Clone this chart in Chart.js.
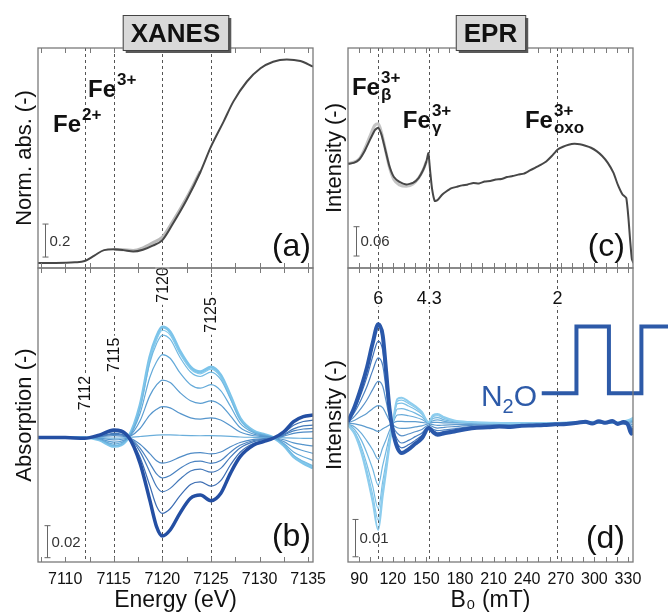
<!DOCTYPE html>
<html>
<head>
<meta charset="utf-8">
<script src="https://cdn.jsdelivr.net/npm/chart.js@4.4.1/dist/chart.umd.min.js"></script>
<style>
  html, body { margin: 0; padding: 0; background: #fff; }
  #wrap { position: relative; width: 668px; height: 612px; }
  #wrap canvas { position: absolute; left: 0; top: 0; }
</style>
</head>
<body>
<div id="wrap">
  <canvas id="panelA" width="668" height="612"></canvas>
  <canvas id="panelB" width="668" height="612"></canvas>
  <canvas id="panelC" width="668" height="612"></canvas>
  <canvas id="panelD" width="668" height="612"></canvas>
</div>
<script>
const FONT = "'Liberation Sans', Arial, sans-serif";
const INK = '#111';

// Tick labels / tick marks
const energyTicks = [7110, 7115, 7120, 7125, 7130, 7135];
const energyMinor = [7107.5, 7110, 7112.5, 7115, 7117.5, 7120, 7122.5, 7125, 7127.5, 7130, 7132.5, 7135];
const fieldTicks = [90, 120, 150, 180, 210, 240, 270, 300, 330];
const fieldMinor = [90, 100, 110, 120, 130, 140, 150, 160, 170, 180, 190, 200, 210, 220, 230, 240, 250, 260, 270, 280, 290, 300, 310, 320, 330];

// Marker lines
const energyMarks = [7112, 7115, 7120, 7125];
const fieldMarks = [107, 152.5, 267];
const gValues = ['6', '4.3', '2'];

// (a) XANES, normalised absorption
const xanesEnergy = [7107.2, 7109, 7111, 7112, 7113, 7114, 7115, 7116, 7117, 7118, 7119, 7120, 7121, 7122.5, 7123.9, 7125, 7126.3, 7127.3, 7128.7, 7130.1, 7131.4, 7132.8, 7134.2, 7135.5];
const xanesAbs = [0, 0, 0.004, 0.012, 0.045, 0.078, 0.083, 0.078, 0.069, 0.08, 0.105, 0.139, 0.23, 0.383, 0.55, 0.705, 0.857, 0.978, 1.1, 1.18, 1.22, 1.234, 1.224, 1.19];
const xanesGreyEnergy = [7115, 7116, 7117, 7118, 7119, 7120, 7121, 7122.5, 7123.9];
const xanesGreyAbs = [0.083, 0.08, 0.076, 0.092, 0.122, 0.157, 0.245, 0.395, 0.557];

// (b) XANES difference spectra, from the most positive to the most negative
const diffEnergy = [7107.2, 7110, 7112, 7113.5, 7115, 7116.5, 7117.7, 7118.7, 7119.4, 7120, 7120.8, 7121.8, 7122.9, 7123.9, 7125, 7126, 7127, 7128, 7129.4, 7130.4, 7131.4, 7132.5, 7133.5, 7134.5, 7135.5];
const xanesDiff = [
  [0, 0, 0, -0.0015, -0.0055, 0, 0.0200, 0.0500, 0.0630, 0.0690, 0.0660, 0.0540, 0.0440, 0.0410, 0.0440, 0.0390, 0.0260, 0.0120, 0.0040, 0.0020, 0, -0.0050, -0.0120, -0.0160, -0.0190],
  [0, 0, 0, -0.0015, -0.0053, 0, 0.0194, 0.0485, 0.0610, 0.0670, 0.0640, 0.0524, 0.0427, 0.0398, 0.0427, 0.0378, 0.0252, 0.0116, 0.0039, 0.0019, 0, -0.0049, -0.0116, -0.0155, -0.0184],
  [0, 0, 0, -0.0014, -0.0051, 0, 0.0186, 0.0465, 0.0586, 0.0640, 0.0614, 0.0502, 0.0409, 0.0381, 0.0409, 0.0363, 0.0242, 0.0112, 0.0037, 0.0019, 0, -0.0047, -0.0112, -0.0149, -0.0177],
  [0, 0, 0, -0.0011, -0.0041, 0, 0.0150, 0.0375, 0.0473, 0.0518, 0.0495, 0.0405, 0.0330, 0.0308, 0.0330, 0.0293, 0.0195, 0.0090, 0.0030, 0.0015, 0, -0.0038, -0.0090, -0.0120, -0.0143],
  [0, 0, 0, -0.0008, -0.0029, 0, 0.0104, 0.0260, 0.0328, 0.0359, 0.0343, 0.0281, 0.0229, 0.0213, 0.0229, 0.0203, 0.0135, 0.0062, 0.0021, 0.0010, 0, -0.0026, -0.0062, -0.0083, -0.0099],
  [0, 0, 0, -0.0004, -0.0015, 0, 0.0056, 0.0140, 0.0176, 0.0193, 0.0185, 0.0151, 0.0123, 0.0115, 0.0123, 0.0109, 0.0073, 0.0034, 0.0011, 0.0006, 0, -0.0014, -0.0034, -0.0045, -0.0053],
  [0, 0, 0, -0.0001, -0.0004, 0, 0.0006, 0.0012, 0.0015, 0.0016, 0.0016, 0.0014, 0.0012, 0.0011, 0.0012, 0.0010, 0.0007, 0.0003, 0.0001, 0, 0, -0.0002, -0.0004, -0.0005, -0.0006],
  [0, 0, -0.0001, 0.0004, 0.0012, 0.0001, -0.0042, -0.0101, -0.0145, -0.0160, -0.0150, -0.0123, -0.0099, -0.0094, -0.0103, -0.0091, -0.0058, -0.0031, -0.0012, -0.0007, -0.0001, 0.0009, 0.0026, 0.0034, 0.0036],
  [0, 0, -0.0002, 0.0006, 0.0019, 0.0002, -0.0066, -0.0160, -0.0228, -0.0253, -0.0237, -0.0194, -0.0156, -0.0148, -0.0162, -0.0144, -0.0092, -0.0049, -0.0019, -0.0011, -0.0002, 0.0015, 0.0041, 0.0053, 0.0057],
  [0, 0, -0.0003, 0.0008, 0.0026, 0.0003, -0.0088, -0.0215, -0.0306, -0.0339, -0.0318, -0.0261, -0.0209, -0.0198, -0.0217, -0.0193, -0.0123, -0.0066, -0.0026, -0.0014, -0.0003, 0.0020, 0.0054, 0.0072, 0.0077],
  [0, 0, -0.0004, 0.0012, 0.0036, 0.0004, -0.0123, -0.0300, -0.0429, -0.0474, -0.0445, -0.0365, -0.0293, -0.0277, -0.0304, -0.0270, -0.0172, -0.0092, -0.0036, -0.0020, -0.0004, 0.0028, 0.0076, 0.0100, 0.0108],
  [0, 0, -0.0005, 0.0015, 0.0047, 0.0005, -0.0160, -0.0390, -0.0557, -0.0616, -0.0578, -0.0474, -0.0380, -0.0360, -0.0395, -0.0350, -0.0224, -0.0120, -0.0047, -0.0026, -0.0005, 0.0036, 0.0099, 0.0130, 0.0140]
];
const xanesDiffColors = ['#7cc4ea', '#86caec', '#72b9e2', '#64aad9', '#5a9dd1', '#5595cc', '#6aaedb', '#4f8bc6', '#4a82c0', '#4479ba', '#3c6db3', '#244fa3'];
const xanesDiffWidths = [3, 1.2, 1.2, 1.2, 1.2, 1.2, 1.2, 1.2, 1.2, 1.2, 1.2, 3.5];

// (c) EPR spectrum
const eprField = [80, 85, 90, 95, 100, 104, 107, 110, 113, 117, 121, 126, 132, 138, 143, 147, 150, 151.8, 153.3, 155, 157.5, 160, 164, 168, 172, 177, 182, 187, 192, 197, 202, 207, 212, 217, 222, 227, 232, 237, 242, 247, 252, 257, 262, 267, 272, 277, 282, 287, 292, 297, 302, 307, 312, 317, 321, 325, 328.5, 330.5, 332, 333.5, 335];
const eprIntensity = [0.213, 0.215, 0.222, 0.240, 0.264, 0.282, 0.287, 0.272, 0.245, 0.208, 0.186, 0.176, 0.171, 0.174, 0.184, 0.200, 0.218, 0.235, 0.200, 0.163, 0.137, 0.139, 0.150, 0.157, 0.163, 0.166, 0.169, 0.171, 0.174, 0.173, 0.177, 0.178, 0.181, 0.182, 0.186, 0.188, 0.191, 0.193, 0.199, 0.205, 0.211, 0.218, 0.229, 0.242, 0.248, 0.252, 0.254, 0.253, 0.250, 0.246, 0.239, 0.229, 0.215, 0.195, 0.170, 0.151, 0.143, 0.100, 0.055, 0.018, 0.010];
const eprGreyField = [80, 90, 95, 100, 104, 107, 110, 113, 117, 121, 126, 132, 138, 143, 147, 150];
const eprGreyIntensity = [0.213, 0.223, 0.244, 0.272, 0.292, 0.295, 0.276, 0.246, 0.206, 0.181, 0.170, 0.167, 0.172, 0.184, 0.200, 0.218];

// (d) EPR difference spectra
const diffFieldDark = [80, 86, 92, 97, 102, 107, 111, 114, 117, 120, 124, 128, 134, 140, 146, 152, 156, 160, 166, 175, 185, 195, 205, 215, 225, 235, 245, 255, 265, 275, 285, 292, 298, 304, 310, 316, 321, 326, 330, 333, 335];
const eprDiffDark = [0.0004, 0.0045, 0.0098, 0.0150, 0.0214, 0.0265, 0.0235, 0.0140, 0.0040, -0.0020, -0.0065, -0.0080, -0.0070, -0.0055, -0.0040, -0.0013, -0.0024, -0.0031, -0.0027, -0.0022, -0.0016, -0.0012, -0.0011, -0.0009, -0.0010, -0.0007, -0.0006, -0.0005, -0.0003, -0.0002, 0.0001, 0.0004, -0.0001, 0.0005, 0.0001, 0.0006, -0.0002, 0.0003, -0.0004, -0.0028, -0.0015];
const diffField = [80, 86, 92, 97, 102, 107, 111, 114, 117, 120, 124, 128, 134, 140, 146, 152, 156, 160, 166, 175, 190, 210, 235, 260, 285, 305, 320, 330, 335];
const eprDiff = [
  [-0.0005, -0.0030, -0.0080, -0.0140, -0.0210, -0.0286, -0.0195, -0.0130, -0.0060, 0.0000, 0.0065, 0.0068, 0.0058, 0.0046, 0.0030, 0.0003, 0.0022, 0.0025, 0.0016, 0.0007, 0.0003, 0.0001, 0.0000, 0.0000, 0.0003, 0.0004, 0.0002, 0.0008, 0.0015],
  [-0.0005, -0.0027, -0.0073, -0.0127, -0.0191, -0.0260, -0.0177, -0.0118, -0.0055, 0.0000, 0.0059, 0.0062, 0.0053, 0.0042, 0.0027, 0.0003, 0.0020, 0.0023, 0.0015, 0.0006, 0.0003, 0.0001, 0.0000, 0.0000, 0.0003, 0.0004, 0.0002, 0.0007, 0.0014],
  [-0.0004, -0.0024, -0.0064, -0.0112, -0.0168, -0.0229, -0.0156, -0.0104, -0.0048, 0.0000, 0.0052, 0.0054, 0.0046, 0.0037, 0.0024, 0.0002, 0.0018, 0.0020, 0.0013, 0.0006, 0.0002, 0.0001, 0.0000, 0.0000, 0.0002, 0.0003, 0.0002, 0.0006, 0.0012],
  [-0.0003, -0.0017, -0.0046, -0.0081, -0.0122, -0.0166, -0.0113, -0.0075, -0.0035, 0.0000, 0.0038, 0.0039, 0.0034, 0.0027, 0.0017, 0.0002, 0.0013, 0.0015, 0.0009, 0.0004, 0.0002, 0.0001, 0.0000, 0.0000, 0.0002, 0.0002, 0.0001, 0.0005, 0.0009],
  [-0.0002, -0.0010, -0.0027, -0.0048, -0.0071, -0.0097, -0.0066, -0.0044, -0.0020, 0.0000, 0.0022, 0.0023, 0.0020, 0.0016, 0.0010, 0.0001, 0.0007, 0.0009, 0.0005, 0.0002, 0.0001, 0.0000, 0.0000, 0.0000, 0.0001, 0.0001, 0.0001, 0.0003, 0.0005],
  [0.0000, -0.0002, -0.0006, -0.0011, -0.0016, -0.0022, -0.0015, -0.0010, -0.0005, 0.0000, 0.0005, 0.0005, 0.0004, 0.0004, 0.0002, 0.0000, 0.0002, 0.0002, 0.0001, 0.0001, 0.0000, 0.0000, 0.0000, 0.0000, 0.0000, 0.0000, 0.0000, 0.0001, 0.0001],
  [0.0001, 0.0008, 0.0018, 0.0027, 0.0039, 0.0047, 0.0042, 0.0025, 0.0007, -0.0004, -0.0012, -0.0014, -0.0013, -0.0010, -0.0007, -0.0002, -0.0004, -0.0006, -0.0005, -0.0004, -0.0003, -0.0002, -0.0001, -0.0001, 0.0000, 0.0001, 0.0000, -0.0001, -0.0005],
  [0.0002, 0.0019, 0.0041, 0.0063, 0.0090, 0.0112, 0.0099, 0.0059, 0.0017, -0.0008, -0.0027, -0.0034, -0.0029, -0.0023, -0.0017, -0.0005, -0.0010, -0.0013, -0.0011, -0.0009, -0.0006, -0.0004, -0.0003, -0.0002, 0.0001, 0.0002, 0.0000, -0.0003, -0.0011],
  [0.0003, 0.0030, 0.0065, 0.0099, 0.0141, 0.0175, 0.0155, 0.0092, 0.0026, -0.0013, -0.0043, -0.0053, -0.0046, -0.0036, -0.0026, -0.0009, -0.0016, -0.0020, -0.0018, -0.0015, -0.0009, -0.0007, -0.0005, -0.0003, 0.0001, 0.0003, 0.0000, -0.0004, -0.0017],
  [0.0003, 0.0037, 0.0081, 0.0125, 0.0178, 0.0220, 0.0195, 0.0116, 0.0033, -0.0017, -0.0054, -0.0066, -0.0058, -0.0046, -0.0033, -0.0011, -0.0020, -0.0026, -0.0022, -0.0018, -0.0012, -0.0008, -0.0007, -0.0003, 0.0002, 0.0003, 0.0000, -0.0005, -0.0021]
];
const eprDiffColors = ['#8dcdee', '#84c7ea', '#7bc0e6', '#72b7e1', '#69abd9', '#5d9ccf', '#5f9ccf', '#5a91c9', '#4a7fc0', '#3f6fb8'];
const eprDiffWidths = [2, 1.2, 1.2, 1.2, 1.2, 1.2, 1.2, 1.2, 1.2, 1.2];

// N2O on/off switching (schematic), listed right to left
const n2oField = [375, 342, 342, 313, 313, 284, 284, 253];
const n2oLevel = [0.0259, 0.0259, 0.008, 0.008, 0.0259, 0.0259, 0.008, 0.008];


function series(xs, ys, color, width, smooth) {
    return {
        data: xs.map((x, i) => ({ x: x, y: ys[i] })),
        borderColor: color,
        borderWidth: width,
        pointRadius: 0,
        fill: false,
        cubicInterpolationMode: smooth ? 'monotone' : 'default',
        tension: smooth ? 0 : 0.15
    };
}

function drawSpecies(ctx, x, y, sup, sub) {
    ctx.fillStyle = INK;
    ctx.textAlign = 'left';
    ctx.textBaseline = 'alphabetic';
    ctx.font = 'bold 24px ' + FONT;
    ctx.fillText('Fe', x, y);
    const w = ctx.measureText('Fe').width;
    ctx.font = 'bold 17px ' + FONT;
    ctx.fillText(sup, x + w + 1, y - 12);
    if (sub) ctx.fillText(sub, x + w + 1, y + 5);
}

const decor = {
    id: 'decor',
    beforeDatasetsDraw(chart, args, o) {
        const { ctx, chartArea: a } = chart;
        const xs = chart.scales.x, ys = chart.scales.y;
        ctx.save();
        ctx.strokeStyle = '#555';
        ctx.lineWidth = 1;
        ctx.setLineDash([3, 3]);
        o.marks.forEach(v => {
            const px = Math.round(xs.getPixelForValue(v)) + 0.5;
            ctx.beginPath();
            ctx.moveTo(px, a.top);
            ctx.lineTo(px, a.bottom);
            ctx.stroke();
        });
        ctx.setLineDash([]);
        // labels that sit on the dashed lines
        (o.markLabels || []).forEach(l => {
            const px = xs.getPixelForValue(l.x);
            const py = ys.getPixelForValue(l.y);
            ctx.font = l.size + 'px ' + FONT;
            const w = ctx.measureText(l.text).width;
            ctx.save();
            ctx.translate(px, py);
            if (l.rotate) ctx.rotate(-Math.PI / 2);
            ctx.fillStyle = '#fff';
            ctx.fillRect(-w / 2 - 2, -l.size * 0.45, w + 4, l.size * 0.9);
            ctx.fillStyle = INK;
            ctx.textAlign = 'center';
            ctx.textBaseline = 'middle';
            ctx.fillText(l.text, 0, 1);
            ctx.restore();
        });
        ctx.restore();
    },
    afterDraw(chart, args, o) {
        const { ctx, chartArea: a } = chart;
        const xs = chart.scales.x, ys = chart.scales.y;
        ctx.save();

        // frame
        ctx.strokeStyle = '#7a7a7a';
        ctx.lineWidth = 1.3;
        ctx.strokeRect(a.left, a.top, a.right - a.left, a.bottom - a.top);

        // inward ticks on top and bottom edges
        ctx.lineWidth = 1;
        o.ticks.forEach(v => {
            const px = Math.round(xs.getPixelForValue(v)) + 0.5;
            ctx.beginPath();
            ctx.moveTo(px, a.bottom);
            ctx.lineTo(px, a.bottom - 5);
            ctx.moveTo(px, a.top);
            ctx.lineTo(px, a.top + 5);
            ctx.stroke();
        });

        // scale bar
        const sb = o.scaleBar;
        const bx = Math.round(xs.getPixelForValue(sb.x)) + 0.5;
        const b0 = ys.getPixelForValue(sb.y);
        const b1 = ys.getPixelForValue(sb.y + sb.size);
        ctx.strokeStyle = '#666';
        ctx.beginPath();
        ctx.moveTo(bx, b0); ctx.lineTo(bx, b1);
        ctx.moveTo(bx - 3, b0); ctx.lineTo(bx + 3, b0);
        ctx.moveTo(bx - 3, b1); ctx.lineTo(bx + 3, b1);
        ctx.stroke();
        ctx.fillStyle = '#333';
        ctx.font = '15px ' + FONT;
        ctx.textAlign = 'left';
        ctx.textBaseline = 'middle';
        ctx.fillText(sb.label, bx + 4, (b0 + b1) / 2 + 1);

        // panel letter
        ctx.fillStyle = INK;
        ctx.font = '32px ' + FONT;
        ctx.textAlign = 'right';
        ctx.textBaseline = 'alphabetic';
        ctx.fillText(o.letter, a.right - o.letterGap[0], a.bottom - o.letterGap[1]);

        // oxidation state labels
        (o.species || []).forEach(s => {
            drawSpecies(ctx, xs.getPixelForValue(s.x), ys.getPixelForValue(s.y), s.sup, s.sub);
        });

        // N2O label
        if (o.n2o) {
            const nx = xs.getPixelForValue(o.n2o.x);
            const ny = ys.getPixelForValue(o.n2o.y);
            ctx.fillStyle = '#2d5aa8';
            ctx.textAlign = 'left';
            ctx.font = '30px ' + FONT;
            ctx.fillText('N', nx, ny);
            let w = ctx.measureText('N').width;
            ctx.font = '20px ' + FONT;
            ctx.fillText('2', nx + w, ny + 7);
            w += ctx.measureText('2').width;
            ctx.font = '30px ' + FONT;
            ctx.fillText('O', nx + w, ny);
        }

        // grey title box
        if (o.title) {
            ctx.font = 'bold 26px ' + FONT;
            const w = ctx.measureText(o.title).width + 16;
            const cx = (a.left + a.right) / 2;
            const top = 15, h = 35;
            ctx.fillStyle = '#5a5a5a';
            ctx.fillRect(cx - w / 2 + 3, top + 3, w, h);
            ctx.fillStyle = '#d9d9d9';
            ctx.fillRect(cx - w / 2, top, w, h);
            ctx.strokeStyle = '#444';
            ctx.lineWidth = 1;
            ctx.strokeRect(cx - w / 2 + 0.5, top + 0.5, w, h);
            ctx.fillStyle = INK;
            ctx.textAlign = 'center';
            ctx.fillText(o.title, cx, top + 27);
        }
        ctx.restore();
    }
};

function makePanel(id, cfg) {
    const hasX = !!cfg.xTitle;
    const xAxis = {
        type: 'linear',
        min: cfg.xMin,
        max: cfg.xMax,
        display: hasX,
        grid: { display: false, drawTicks: false },
        border: { display: false },
        afterBuildTicks: s => { s.ticks = (cfg.xLabels || []).map(v => ({ value: v })); },
        afterFit: s => { s.height = hasX ? 50 : 0; },
        ticks: {
            autoSkip: false,
            maxRotation: 0,
            padding: 8,
            color: INK,
            font: { family: FONT, size: 16 },
            callback: v => String(v)
        },
        title: {
            display: hasX,
            text: cfg.xTitle,
            color: INK,
            font: { family: FONT, size: 23, lineHeight: 1 },
            padding: { top: 0, bottom: 0 }
        }
    };
    const yAxis = {
        type: 'linear',
        min: cfg.yMin,
        max: cfg.yMax,
        grid: { display: false, drawTicks: false },
        border: { display: false },
        ticks: { display: false },
        afterFit: s => { s.width = cfg.yWidth; },
        title: {
            display: true,
            text: cfg.yTitle,
            color: INK,
            font: { family: FONT, size: 22 },
            padding: { top: cfg.yTitlePad, bottom: 0 }
        }
    };
    return new Chart(document.getElementById(id), {
        type: 'line',
        data: { datasets: cfg.datasets },
        options: {
            responsive: false,
            animation: false,
            events: [],
            layout: { padding: cfg.padding },
            plugins: {
                legend: { display: false },
                tooltip: { enabled: false },
                decor: cfg.decor
            },
            scales: { x: xAxis, y: yAxis }
        },
        plugins: [decor]
    });
}

// (a) XANES
makePanel('panelA', {
    padding: { left: 0, right: 355, top: 48, bottom: 344 },
    xMin: 7107.2, xMax: 7135.5,
    yMin: -0.0303, yMax: 1.303,
    yWidth: 38, yTitlePad: 12, yTitle: 'Norm. abs. (-)',
    datasets: [
        series(xanesEnergy, xanesAbs, '#474747', 2, true),
        series(xanesGreyEnergy, xanesGreyAbs, '#b9b9b9', 3, true)
    ],
    decor: {
        marks: energyMarks,
        ticks: energyMinor,
        scaleBar: { x: 7107.9, y: 0.036, size: 0.2, label: '0.2' },
        letter: '(a)', letterGap: [2, 12],
        species: [
            { x: 7108.75, y: 0.794, sup: '2+' },
            { x: 7112.35, y: 1.006, sup: '3+' }
        ],
        title: 'XANES'
    }
});

// (b) XANES differences
const diffSets = xanesDiff.map((ys, i) => series(diffEnergy, ys, xanesDiffColors[i], xanesDiffWidths[i], true));
makePanel('panelB', {
    padding: { left: 0, right: 355, top: 268, bottom: 0 },
    xMin: 7107.2, xMax: 7135.5, xLabels: energyTicks, xTitle: 'Energy (eV)',
    yMin: -0.0778, yMax: 0.1059,
    yWidth: 38, yTitlePad: 12, yTitle: 'Absorption (-)',
    datasets: diffSets.reverse(),
    decor: {
        marks: energyMarks,
        markLabels: [
            { x: 7112, y: 0.0278, text: '7112', size: 16, rotate: true },
            { x: 7115, y: 0.0516, text: '7115', size: 16, rotate: true },
            { x: 7120, y: 0.0953, text: '7120', size: 16, rotate: true },
            { x: 7125, y: 0.0766, text: '7125', size: 16, rotate: true }
        ],
        ticks: energyMinor,
        scaleBar: { x: 7108.1, y: -0.0751, size: 0.02, label: '0.02' },
        letter: '(b)', letterGap: [2, 16]
    }
});

// (c) EPR
makePanel('panelC', {
    padding: { left: 318, right: 35, top: 48, bottom: 344 },
    xMin: 80, xMax: 334.5,
    yMin: 0, yMax: 0.45,
    yWidth: 30, yTitlePad: 4, yTitle: 'Intensity (-)',
    datasets: [
        series(eprField, eprIntensity, '#474747', 2, false),
        series(eprGreyField, eprGreyIntensity, '#c4c4c4', 3, true)
    ],
    decor: {
        marks: fieldMarks,
        ticks: fieldMinor,
        scaleBar: { x: 87.1, y: 0.0245, size: 0.06, label: '0.06' },
        letter: '(c)', letterGap: [8, 12],
        species: [
            { x: 83.5, y: 0.354, sup: '3+', sub: '\u03b2' },
            { x: 129, y: 0.286, sup: '3+', sub: '\u03b3' },
            { x: 238, y: 0.286, sup: '3+', sub: 'oxo' }
        ],
        title: 'EPR'
    }
});

// (d) EPR differences + N2O switching
const eprSets = [series(diffFieldDark, eprDiffDark, '#2a58aa', 4, true)];
eprDiff.forEach((ys, i) => eprSets.push(series(diffField, ys, eprDiffColors[i], eprDiffWidths[i], true)));
const wave = series(n2oField, n2oLevel, '#2d5aa8', 4, false);
wave.tension = 0;
wave.clip = false;
wave.borderJoinStyle = 'miter';
eprSets.unshift(wave);
makePanel('panelD', {
    padding: { left: 318, right: 35, top: 268, bottom: 0 },
    xMin: 80, xMax: 334.5, xLabels: fieldTicks, xTitle: 'B\u2080 (mT)',
    yMin: -0.0372, yMax: 0.0416,
    yWidth: 30, yTitlePad: 4, yTitle: 'Intensity (-)',
    datasets: eprSets,
    decor: {
        marks: fieldMarks,
        markLabels: [
            { x: 107, y: 0.0335, text: gValues[0], size: 18 },
            { x: 152.5, y: 0.0335, text: gValues[1], size: 18 },
            { x: 267, y: 0.0335, text: gValues[2], size: 18 }
        ],
        ticks: fieldMinor,
        scaleBar: { x: 86.2, y: -0.0358, size: 0.01, label: '0.01' },
        letter: '(d)', letterGap: [8, 14],
        n2o: { x: 198.7, y: 0.0045 }
    }
});
</script>
</body>
</html>
